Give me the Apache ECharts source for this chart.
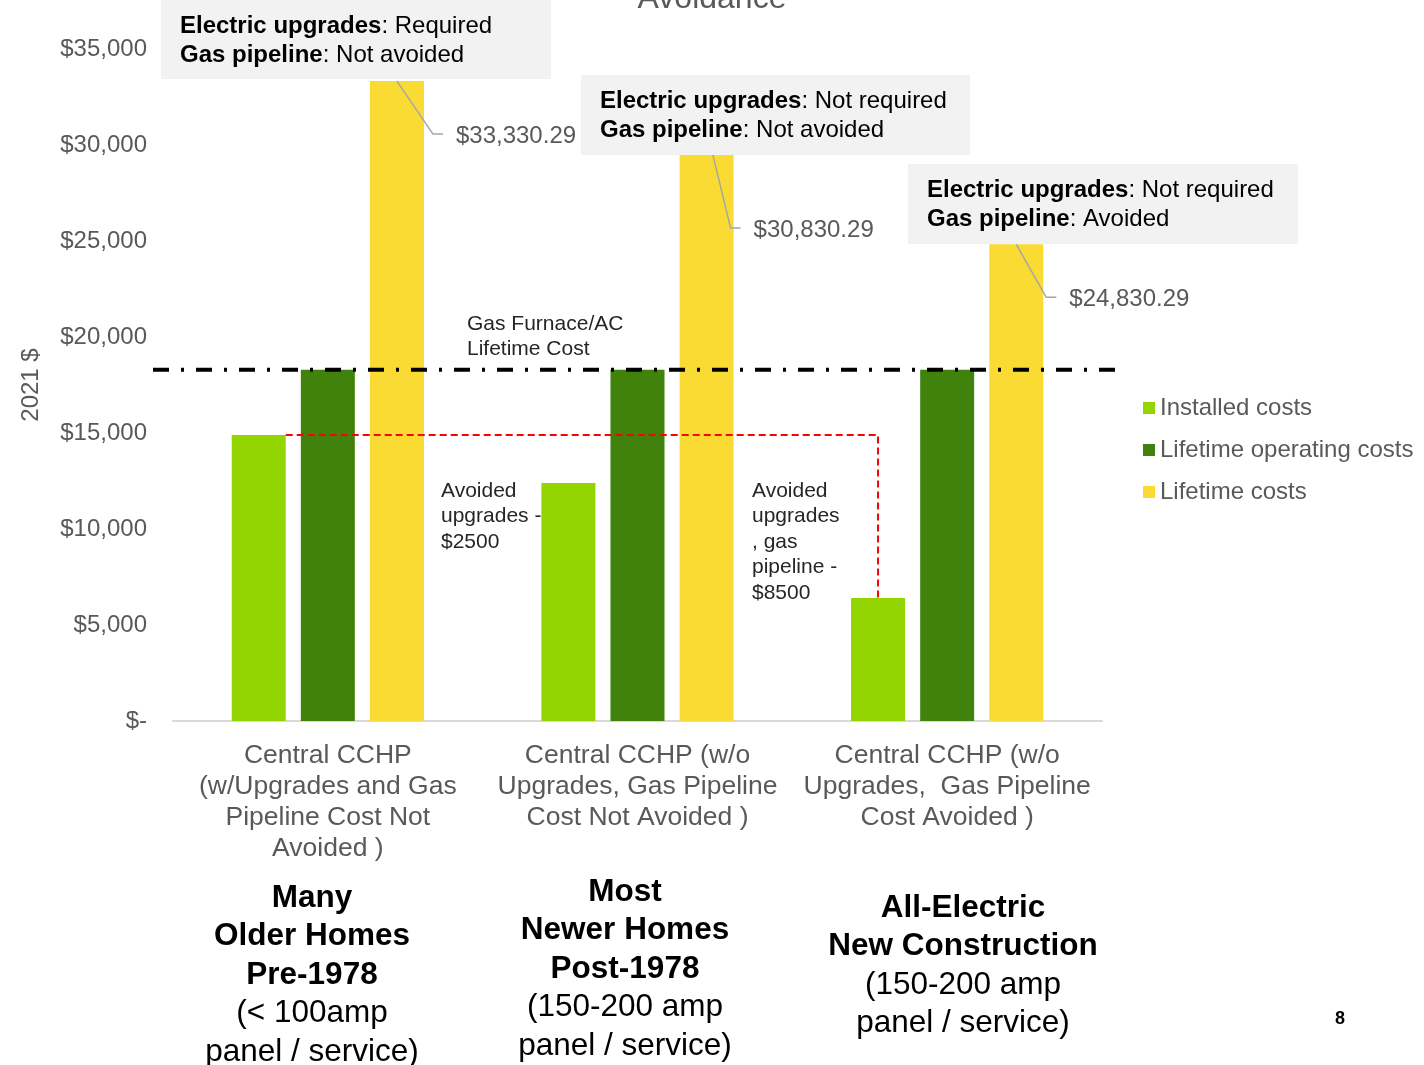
<!DOCTYPE html>
<html>
<head>
<meta charset="utf-8">
<script src="https://cdn.jsdelivr.net/npm/echarts@6/dist/echarts.min.js"></script>
<style>
html,body{margin:0;padding:0;background:#fff;}
#c{width:1424px;height:1065px;}
</style>
</head>
<body>
<div id="c"></div>
<script>
// ---------------- DATA ----------------
const categories = [
  'Central CCHP\n(w/Upgrades and Gas\nPipeline Cost Not\nAvoided )',
  'Central CCHP (w/o\nUpgrades, Gas Pipeline\nCost Not Avoided )',
  'Central CCHP (w/o\nUpgrades,  Gas Pipeline\nCost Avoided )'
];
const seriesNames = ['Installed costs', 'Lifetime operating costs', 'Lifetime costs'];
const installedCosts = [14900, 12400, 6400];
const operatingCosts = [18300, 18300, 18300];
const lifetimeCosts = [33330.29, 30830.29, 24830.29];
const lifetimeLabels = ['$33,330.29', '$30,830.29', '$24,830.29'];
const gasFurnaceLifetimeCost = 18300;
const yTicks = [0, 5000, 10000, 15000, 20000, 25000, 30000, 35000];
const yTickLabels = ['$-', '$5,000', '$10,000', '$15,000', '$20,000', '$25,000', '$30,000', '$35,000'];
const annotationBold1 = ['Electric upgrades', 'Electric upgrades', 'Electric upgrades'];
const annotationText1 = [': Required', ': Not required', ': Not required'];
const annotationBold2 = ['Gas pipeline', 'Gas pipeline', 'Gas pipeline'];
const annotationText2 = [': Not avoided', ': Not avoided', ': Avoided'];
const groupTitles = [['Many', 'Older Homes', 'Pre-1978'], ['Most', 'Newer Homes', 'Post-1978'], ['All-Electric', 'New Construction']];
const groupNotes = [['(< 100amp', 'panel / service)'], ['(150-200 amp', 'panel / service)'], ['(150-200 amp', 'panel / service)']];
const avoidedNotes = ['Avoided\nupgrades -\n$2500', 'Avoided\nupgrades\n, gas\npipeline -\n$8500'];
const gasFurnaceText = 'Gas Furnace/AC\nLifetime Cost';
const titleText = 'Avoidance';
const pageNumber = '8';

// ---------------- LAYOUT (annotation placement) ----------------
const FONT = '"Liberation Sans", Arial, sans-serif';
const GREY = '#595959';
const boxRects = [[161, 0, 390, 79], [581, 75, 389, 80], [908, 164, 390, 80]];
const boxTextOffset = [19, 12];
const leaderOffsets = [[36, 53], [24, 99], [30, 53]];
const groupCenters = [[312, 898], [625, 892], [963, 908]];
const avoidedPos = [[441, 478], [752, 478]];

const chart = echarts.init(document.getElementById('c'), null, {renderer: 'canvas'});

const option = {
  animation: false,
  backgroundColor: '#ffffff',
  textStyle: {fontFamily: FONT},
  grid: {left: 173, right: 322, top: 49, bottom: 344, containLabel: false},
  legend: {
    data: seriesNames,
    orient: 'vertical',
    left: 1143,
    top: 396,
    padding: 0,
    itemWidth: 12,
    itemHeight: 12,
    itemGap: 18,
    icon: 'rect',
    textStyle: {fontSize: 24, color: GREY, fontFamily: FONT}
  },
  xAxis: {
    type: 'category',
    data: categories,
    axisLine: {show: true, lineStyle: {color: '#d9d9d9', width: 2}},
    axisTick: {show: false},
    axisLabel: {
      interval: 0, margin: 19, fontSize: 26.5, lineHeight: 31,
      color: GREY, fontFamily: FONT, align: 'center'
    }
  },
  yAxis: {
    type: 'value',
    min: 0, max: 35000, interval: 5000,
    name: '2021 $',
    nameLocation: 'middle',
    nameRotate: 90,
    nameGap: 130,
    nameTextStyle: {fontSize: 24, color: GREY, fontFamily: FONT},
    axisLine: {show: false},
    axisTick: {show: false},
    splitLine: {show: false},
    axisLabel: {
      margin: 26, fontSize: 24, color: GREY, fontFamily: FONT,
      formatter: function (v) { const i = yTicks.indexOf(v); return i >= 0 ? yTickLabels[i] : ''; }
    }
  },
  series: [
    {name: seriesNames[0], type: 'bar', data: installedCosts, barWidth: 54, barGap: '28%',
     itemStyle: {color: '#93d500'}},
    {name: seriesNames[1], type: 'bar', data: operatingCosts, barWidth: 54, barGap: '28%',
     itemStyle: {color: '#41820d'}},
    {name: seriesNames[2], type: 'bar', data: lifetimeCosts, barWidth: 54, barGap: '28%',
     itemStyle: {color: '#f9db33'}}
  ]
};
chart.setOption(option);

function barRect(seriesIndex, i) {
  const sm = chart.getModel().getSeriesByIndex(seriesIndex);
  const l = sm.getData().getItemLayout(i);
  const x = Math.min(l.x, l.x + l.width), w = Math.abs(l.width);
  const top = Math.min(l.y, l.y + l.height);
  return {x: x, w: w, top: top, cx: x + w / 2, right: x + w};
}

const graphics = [];

// Title (clipped at top)
graphics.push({type: 'text', x: 712, y: -1, z: 100,
  style: {text: titleText, fill: GREY, font: '32px ' + FONT, textAlign: 'center', textVerticalAlign: 'middle'}});

// Gas furnace dash-dot reference line
const yGas = chart.convertToPixel({yAxisIndex: 0}, gasFurnaceLifetimeCost);
graphics.push({type: 'line', z: 50, shape: {x1: 153, y1: yGas, x2: 1117, y2: yGas},
  style: {stroke: '#000', lineWidth: 4, lineDash: [16, 12, 3, 12]}});
graphics.push({type: 'text', x: 467, y: 311.5, z: 50,
  style: {text: gasFurnaceText, fill: '#262626', font: '21px ' + FONT, lineHeight: 25, textVerticalAlign: 'top'}});

// Red dashed line: installed cost level of group 1 to group 3
const g1 = barRect(0, 0), g3 = barRect(0, 2);
graphics.push({type: 'polyline', z: 50,
  shape: {points: [[g1.right, g1.top], [g3.cx, g1.top], [g3.cx, g3.top]]},
  style: {stroke: '#ff0000', lineWidth: 2, lineDash: [7, 4], fill: null}});

// Avoided notes
avoidedNotes.forEach(function (t, k) {
  graphics.push({type: 'text', x: avoidedPos[k][0], y: avoidedPos[k][1], z: 50,
    style: {text: t, fill: '#262626', font: '21px ' + FONT, lineHeight: 25.5, textVerticalAlign: 'top'}});
});

// Leader lines + value labels for lifetime costs
lifetimeCosts.forEach(function (v, i) {
  const r = barRect(2, i);
  const sx = r.cx, sy = r.top;
  const cx = sx + leaderOffsets[i][0], cy = sy + leaderOffsets[i][1];
  graphics.push({type: 'polyline', z: 60,
    shape: {points: [[sx, sy], [cx, cy], [cx + 10, cy]]},
    style: {stroke: '#a6a6a6', lineWidth: 1.5, fill: null}});
  graphics.push({type: 'text', x: cx + 23, y: cy + 2, z: 60,
    style: {text: lifetimeLabels[i], fill: GREY, font: '24px ' + FONT, textVerticalAlign: 'middle'}});
});

// Annotation boxes
boxRects.forEach(function (b, i) {
  graphics.push({type: 'rect', z: 100, shape: {x: b[0], y: b[1], width: b[2], height: b[3]},
    style: {fill: '#f2f2f2'}});
  graphics.push({type: 'text', z: 101, x: b[0] + boxTextOffset[0], y: b[1] + boxTextOffset[1],
    style: {
      text: '{b|' + annotationBold1[i] + '}{n|' + annotationText1[i] + '}\n{b|' + annotationBold2[i] + '}{n|' + annotationText2[i] + '}',
      textVerticalAlign: 'top',
      rich: {
        b: {fontFamily: FONT, fontSize: 24, fontWeight: 'bold', fill: '#000', lineHeight: 29},
        n: {fontFamily: FONT, fontSize: 24, fill: '#000', lineHeight: 29}
      }
    }});
});

// Group captions at the bottom
groupTitles.forEach(function (titles, i) {
  const parts = titles.map(function (t) { return '{b|' + t + '}'; })
    .concat(groupNotes[i].map(function (t) { return '{n|' + t + '}'; }));
  graphics.push({type: 'text', z: 50, x: groupCenters[i][0], y: groupCenters[i][1] - 19.25,
    style: {
      text: parts.join('\n'), textAlign: 'center', textVerticalAlign: 'top',
      rich: {
        b: {fontFamily: FONT, fontSize: 31.5, fontWeight: 'bold', fill: '#000', lineHeight: 38.5, align: 'center'},
        n: {fontFamily: FONT, fontSize: 31.5, fill: '#000', lineHeight: 38.5, align: 'center'}
      }
    }});
});

// Page number
graphics.push({type: 'text', z: 50, x: 1340, y: 1019,
  style: {text: pageNumber, fill: '#000', font: 'bold 18px ' + FONT, textAlign: 'center', textVerticalAlign: 'middle'}});

chart.setOption({graphic: graphics});
</script>
</body>
</html>
